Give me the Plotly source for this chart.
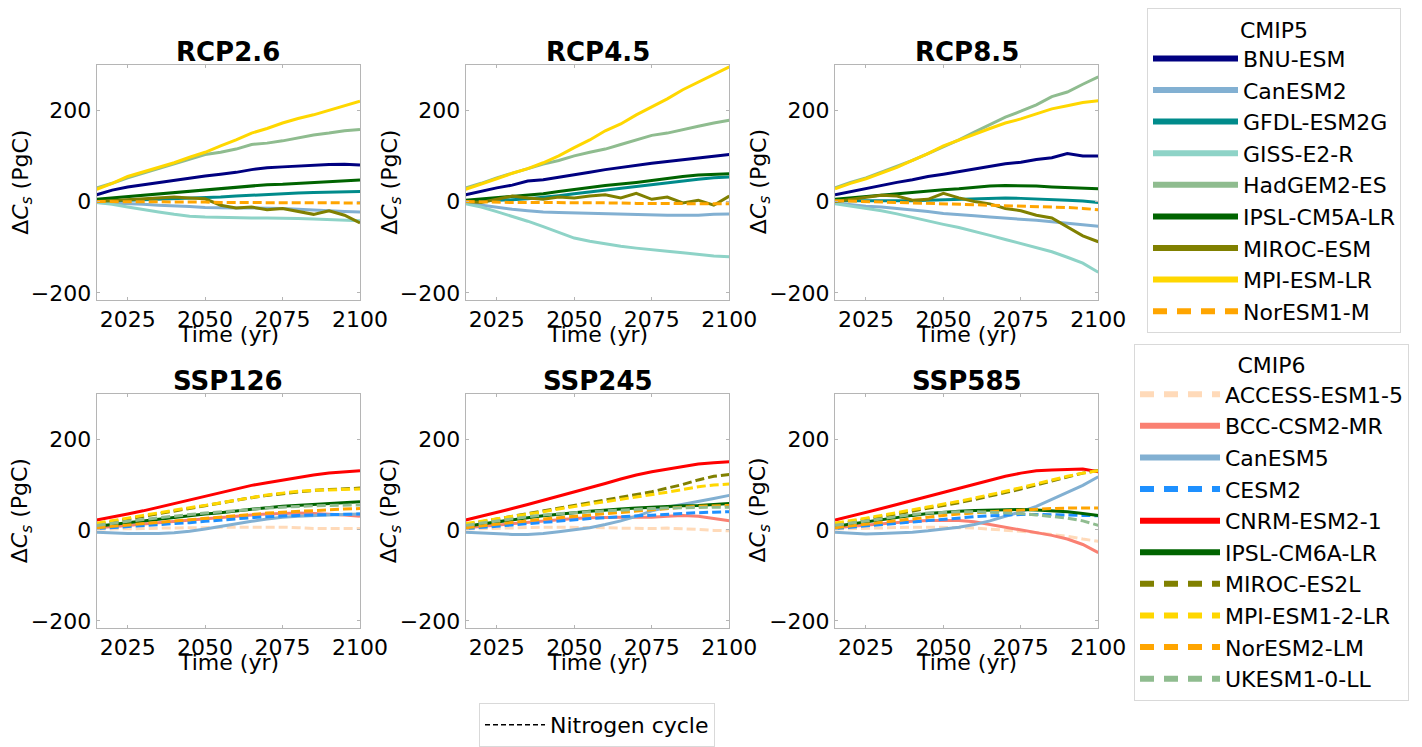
import plotly.graph_objects as go

years = [2015, 2020, 2025, 2030, 2035, 2040, 2045, 2050, 2055, 2060,
         2065, 2070, 2075, 2080, 2085, 2090, 2095, 2100]

cmip5_models = ["BNU-ESM", "CanESM2", "GFDL-ESM2G", "GISS-E2-R", "HadGEM2-ES",
                "IPSL-CM5A-LR", "MIROC-ESM", "MPI-ESM-LR", "NorESM1-M"]
cmip6_models = ["ACCESS-ESM1-5", "BCC-CSM2-MR", "CanESM5", "CESM2", "CNRM-ESM2-1",
                "IPSL-CM6A-LR", "MIROC-ES2L", "MPI-ESM1-2-LR", "NorESM2-LM", "UKESM1-0-LL"]

rcp26 = {
    "BNU-ESM":      [15, 25, 32, 37, 42, 46, 51, 56, 60, 64, 70, 74, 76, 78, 79, 81, 82, 80],
    "CanESM2":      [-2, -3, -4, -6, -8, -9, -11, -13, -14, -14, -14, -14, -15, -17, -19, -21, -22, -23],
    "GFDL-ESM2G":   [0, 2, 3, 4, 5, 6, 7, 8, 10, 12, 14, 16, 18, 19, 20, 21, 22, 22],
    "GISS-E2-R":    [-2, -6, -12, -18, -23, -28, -32, -34, -35, -35, -36, -36, -36, -37, -38, -39, -40, -42],
    "HadGEM2-ES":   [30, 40, 52, 62, 72, 82, 93, 103, 108, 115, 125, 128, 133, 140, 146, 150, 155, 158],
    "IPSL-CM5A-LR": [5, 8, 11, 14, 17, 19, 22, 25, 29, 32, 35, 37, 38, 40, 42, 44, 46, 47],
    "MIROC-ESM":    [0, 2, 4, 5, 7, 10, 8, 6, -8, -14, -12, -18, -15, -22, -28, -20, -30, -47],
    "MPI-ESM-LR":   [27, 40, 55, 65, 75, 85, 97, 108, 122, 135, 150, 160, 172, 182, 190, 200, 210, 220],
    "NorESM1-M":    [0, 0, 0, 0, -1, -1, -1, -1, -2, -2, -2, -2, -3, -3, -3, -3, -3, -3],
}
rcp45 = {
    "BNU-ESM":      [15, 23, 30, 36, 45, 48, 53, 58, 64, 70, 75, 80, 84, 88, 92, 96, 100, 103],
    "CanESM2":      [-3, -8, -13, -17, -20, -23, -24, -25, -26, -27, -28, -29, -30, -30, -30, -30, -28, -27],
    "GFDL-ESM2G":   [0, 1, 2, 4, 6, 9, 13, 17, 21, 25, 29, 33, 38, 42, 46, 49, 52, 54],
    "GISS-E2-R":    [-5, -12, -22, -32, -43, -55, -67, -80, -87, -93, -98, -102, -106, -109, -112, -116, -119, -121],
    "HadGEM2-ES":   [30, 40, 52, 62, 72, 82, 90, 100, 108, 115, 125, 135, 145, 150, 158, 165, 172, 178],
    "IPSL-CM5A-LR": [3, 6, 9, 12, 14, 17, 22, 27, 31, 35, 38, 42, 46, 51, 55, 58, 60, 61],
    "MIROC-ESM":    [0, -2, 5, 12, 8, 5, 10, 8, 12, 15, 8, 18, 5, 10, -3, 3, -8, 12],
    "MPI-ESM-LR":   [27, 38, 50, 62, 72, 85, 100, 118, 135, 155, 170, 190, 208, 225, 245, 262, 278, 295],
    "NorESM1-M":    [0, -1, -1, -2, -2, -2, -3, -3, -3, -3, -3, -4, -4, -4, -5, -5, -5, -5],
}
rcp85 = {
    "BNU-ESM":      [15, 22, 28, 35, 42, 48, 55, 60, 66, 72, 78, 83, 86, 92, 96, 105, 100, 100],
    "CanESM2":      [-3, -7, -10, -12, -15, -18, -22, -26, -28, -31, -34, -36, -38, -41, -44, -47, -50, -54],
    "GFDL-ESM2G":   [2, 2, 1, 1, 2, 2, 3, 4, 5, 6, 7, 8, 7, 6, 5, 3, 1, -2],
    "GISS-E2-R":    [-5, -10, -15, -20, -27, -35, -42, -50, -57, -65, -74, -83, -92, -100, -110, -122, -135, -155],
    "HadGEM2-ES":   [30, 42, 52, 65, 78, 90, 105, 120, 135, 152, 168, 185, 198, 212, 230, 240, 257, 273],
    "IPSL-CM5A-LR": [5, 8, 12, 15, 18, 20, 23, 26, 28, 31, 34, 35, 35, 34, 32, 31, 30, 28],
    "MIROC-ESM":    [0, 5, 10, 14, 12, 3, 5, 18, 8, 0, -5, -15, -20, -30, -36, -55, -75, -88],
    "MPI-ESM-LR":   [28, 40, 50, 62, 75, 90, 105, 122, 135, 148, 160, 172, 181, 192, 203, 210, 217, 221],
    "NorESM1-M":    [2, 1, 0, -1, -2, -3, -4, -5, -6, -7, -8, -8, -9, -10, -11, -13, -15, -18],
}
ssp126 = {
    "ACCESS-ESM1-5": [2, 2, 3, 3, 4, 4, 5, 5, 6, 6, 7, 7, 6, 5, 3, 3, 3, 3],
    "BCC-CSM2-MR":   [5, 7, 10, 13, 16, 19, 22, 25, 28, 31, 33, 35, 36, 37, 36, 35, 33, 30],
    "CanESM5":       [-5, -7, -8, -8, -8, -6, -3, 2, 8, 14, 19, 24, 28, 30, 32, 33, 34, 35],
    "CESM2":         [3, 5, 7, 9, 11, 13, 16, 19, 22, 25, 27, 29, 31, 32, 33, 34, 35, 35],
    "CNRM-ESM2-1":   [22, 28, 35, 42, 50, 58, 66, 75, 83, 91, 98, 104, 110, 116, 121, 125, 128, 130],
    "IPSL-CM6A-LR":  [8, 12, 16, 20, 24, 28, 32, 35, 38, 42, 45, 49, 52, 54, 56, 58, 60, 62],
    "MIROC-ES2L":    [12, 18, 24, 30, 36, 42, 48, 53, 59, 65, 71, 76, 80, 84, 87, 89, 90, 92],
    "MPI-ESM1-2-LR": [15, 20, 26, 32, 38, 44, 49, 54, 60, 66, 72, 77, 81, 85, 87, 88, 89, 90],
    "NorESM2-LM":    [5, 8, 11, 14, 17, 20, 23, 26, 29, 32, 35, 37, 39, 41, 43, 45, 46, 47],
    "UKESM1-0-LL":   [10, 15, 19, 23, 27, 31, 34, 37, 40, 43, 46, 48, 50, 52, 53, 54, 55, 55],
}
ssp245 = {
    "ACCESS-ESM1-5": [2, 3, 4, 5, 5, 6, 6, 6, 6, 5, 4, 3, 3, 4, 3, 1, -1, -2],
    "BCC-CSM2-MR":   [5, 8, 11, 14, 17, 20, 23, 25, 27, 28, 28, 28, 28, 30, 32, 30, 25, 20],
    "CanESM5":       [-5, -7, -9, -10, -10, -8, -4, 0, 5, 12, 20, 30, 42, 50, 56, 62, 69, 76],
    "CESM2":         [3, 5, 8, 11, 14, 17, 20, 22, 25, 27, 29, 31, 33, 35, 37, 38, 39, 40],
    "CNRM-ESM2-1":   [22, 30, 38, 47, 56, 65, 74, 83, 92, 102, 112, 121, 128, 134, 140, 145, 148, 150],
    "IPSL-CM6A-LR":  [8, 13, 18, 23, 27, 31, 35, 38, 41, 44, 46, 48, 50, 52, 53, 54, 56, 58],
    "MIROC-ES2L":    [12, 18, 24, 30, 36, 42, 48, 54, 60, 66, 72, 78, 84, 92, 100, 110, 118, 122],
    "MPI-ESM1-2-LR": [14, 19, 24, 29, 34, 40, 46, 52, 57, 62, 67, 72, 77, 83, 89, 95, 99, 101],
    "NorESM2-LM":    [5, 9, 13, 17, 20, 24, 27, 30, 33, 36, 39, 42, 45, 48, 50, 52, 53, 54],
    "UKESM1-0-LL":   [10, 15, 20, 25, 29, 33, 36, 38, 40, 42, 44, 46, 47, 48, 49, 50, 50, 50],
}
ssp585 = {
    "ACCESS-ESM1-5": [2, 3, 4, 5, 5, 6, 6, 6, 5, 4, 2, 0, -3, -6, -10, -14, -20, -25],
    "BCC-CSM2-MR":   [5, 8, 11, 14, 17, 19, 21, 21, 21, 18, 12, 7, 0, -6, -12, -20, -32, -50],
    "CanESM5":       [-5, -7, -9, -8, -7, -5, -2, 2, 6, 12, 20, 30, 40, 52, 67, 82, 98, 117],
    "CESM2":         [3, 6, 9, 12, 15, 18, 21, 24, 27, 29, 31, 33, 34, 34, 34, 33, 32, 31],
    "CNRM-ESM2-1":   [22, 30, 38, 47, 56, 65, 74, 82, 92, 101, 110, 118, 125, 130, 132, 133, 134, 128],
    "IPSL-CM6A-LR":  [8, 13, 18, 23, 28, 32, 36, 39, 41, 43, 44, 45, 45, 44, 42, 40, 36, 32],
    "MIROC-ES2L":    [12, 17, 23, 29, 35, 41, 47, 53, 60, 67, 74, 82, 90, 99, 108, 117, 125, 131],
    "MPI-ESM1-2-LR": [15, 20, 26, 32, 38, 44, 50, 56, 63, 70, 77, 85, 93, 102, 110, 118, 125, 130],
    "NorESM2-LM":    [5, 9, 13, 17, 21, 25, 29, 32, 35, 38, 40, 42, 44, 46, 47, 48, 48, 48],
    "UKESM1-0-LL":   [10, 15, 20, 25, 30, 34, 37, 39, 40, 40, 39, 38, 36, 33, 30, 26, 20, 10],
}

panel_titles = ["RCP2.6", "RCP4.5", "RCP8.5", "SSP126", "SSP245", "SSP585"]
x_ticks = [2025, 2050, 2075, 2100]
y_ticks = [-200, 0, 200]

# ---- styles ----
colors5 = {"BNU-ESM": "#000080", "CanESM2": "#82B0D2", "GFDL-ESM2G": "#008B8B",
           "GISS-E2-R": "#8ED3C7", "HadGEM2-ES": "#8FBC8F", "IPSL-CM5A-LR": "#006400",
           "MIROC-ESM": "#808000", "MPI-ESM-LR": "#FFD700", "NorESM1-M": "#FFA500"}
dashed5 = {"NorESM1-M"}
colors6 = {"ACCESS-ESM1-5": "#FFDAB9", "BCC-CSM2-MR": "#FA8072", "CanESM5": "#82B0D2",
           "CESM2": "#1E90FF", "CNRM-ESM2-1": "#FF0000", "IPSL-CM6A-LR": "#006400",
           "MIROC-ES2L": "#808000", "MPI-ESM1-2-LR": "#FFD700", "NorESM2-LM": "#FFA500",
           "UKESM1-0-LL": "#8FBC8F"}
dashed6 = {"ACCESS-ESM1-5", "CESM2", "MIROC-ES2L", "MPI-ESM1-2-LR", "NorESM2-LM", "UKESM1-0-LL"}

OFF = 8  # page body margin offset
W, H = 1422 - OFF, 747 - OFF
FONT = "DejaVu Sans"
FS = 22


def px(v):
    return (v - OFF) / W


def py(v):
    return 1 - (v - OFF) / H


xdom = [(96.7, 360.0), (465.7, 729.3), (835.0, 1098.3)]
ydom = [(64.3, 302.3), (397.3, 634.3)]

fig = go.Figure()
layout = dict(width=W, height=H, margin=dict(l=0, r=0, t=0, b=0),
              paper_bgcolor="white", plot_bgcolor="white",
              font=dict(family=FONT, size=FS, color="black"))
annotations = []
panels = [rcp26, rcp45, rcp85, ssp126, ssp245, ssp585]
for i, data in enumerate(panels):
    r, c = divmod(i, 3)
    n = i + 1
    xa = "xaxis" if n == 1 else f"xaxis{n}"
    ya = "yaxis" if n == 1 else f"yaxis{n}"
    xr = "x" if n == 1 else f"x{n}"
    yr = "y" if n == 1 else f"y{n}"
    x0, x1 = xdom[c]
    y0, y1 = ydom[r]
    common = dict(showline=True, mirror="ticks", linecolor="#b5b5b5", linewidth=1,
                  showgrid=False, zeroline=False, ticks="inside", ticklen=3,
                  tickcolor="#b5b5b5", tickfont=dict(size=FS), automargin=False)
    layout[xa] = dict(domain=[px(x0), px(x1)], anchor=yr, range=[2015, 2100],
                      tickvals=x_ticks, **common)
    layout[ya] = dict(domain=[py(y1), py(y0)], anchor=xr, range=[-215, 300],
                      tickvals=y_ticks, **common)
    annotations.append(dict(text=f"<b>{panel_titles[i]}</b>", x=px((x0 + x1) / 2),
                            y=py(y0), xref="paper", yref="paper", xanchor="center",
                            yanchor="bottom", showarrow=False, yshift=-4,
                            font=dict(size=26, family=FONT)))
    annotations.append(dict(text="Time (yr)", x=px((x0 + x1) / 2), y=py(y1 + 35),
                            xref="paper", yref="paper", xanchor="center",
                            yanchor="middle", showarrow=False,
                            font=dict(size=FS, family=FONT)))
    annotations.append(dict(text="Δ<i>C<sub>s</sub></i> (PgC)", x=px(x0 - 75),
                            y=py((y0 + y1) / 2), xref="paper", yref="paper",
                            xanchor="center", yanchor="middle", textangle=-90,
                            showarrow=False, font=dict(size=FS, family=FONT)))
    if r == 0:
        models, cols, dset = cmip5_models, colors5, dashed5
    else:
        models, cols, dset = cmip6_models, colors6, dashed6
    for m in models:
        fig.add_trace(go.Scatter(
            x=years, y=data[m], mode="lines", xaxis=xr, yaxis=yr, showlegend=False,
            line=dict(color=cols[m], width=3, dash="9px,4px" if m in dset else "solid"),
            hoverinfo="skip"))

# legend entries
for m in cmip5_models:
    fig.add_trace(go.Scatter(x=[None], y=[None], mode="lines", name=m, legend="legend",
                             line=dict(color=colors5[m], width=6,
                                       dash="14px,10px" if m in dashed5 else "solid")))
for m in cmip6_models:
    fig.add_trace(go.Scatter(x=[None], y=[None], mode="lines", name=m, legend="legend2",
                             line=dict(color=colors6[m], width=6,
                                       dash="14px,10px" if m in dashed6 else "solid")))
fig.add_trace(go.Scatter(x=[None], y=[None], mode="lines", name="Nitrogen cycle",
                         legend="legend3",
                         line=dict(color="black", width=1.5, dash="5px,3px")))

leg_common = dict(bgcolor="white", bordercolor="#d9d9d9", borderwidth=1,
                  font=dict(size=FS, family=FONT), xanchor="left",
                  yanchor="top", itemclick=False, itemdoubleclick=False)
layout["legend"] = dict(x=px(1147), y=py(7), itemwidth=85,
                        title=dict(text="CMIP5", side="top center", font=dict(size=FS)),
                        **leg_common)
layout["legend2"] = dict(x=px(1134), y=py(347), itemwidth=80,
                         title=dict(text="CMIP6", side="top center", font=dict(size=FS)),
                         **leg_common)
layout["legend3"] = dict(x=px(479), y=py(711), itemwidth=60, **leg_common)
layout["annotations"] = annotations
fig.update_layout(**layout)
fig.write_html("out.html")
